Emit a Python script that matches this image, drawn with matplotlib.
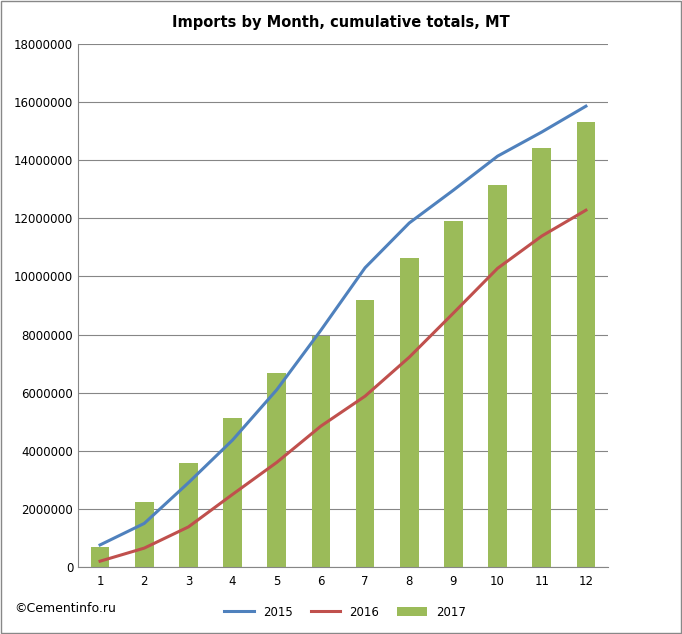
import matplotlib.pyplot as plt
import numpy as np

months = list(range(1, 13))
imports_2017 = [690000, 2240000, 3580000, 5130000, 6680000, 7950000, 9190000, 10630000, 11900000, 13150000, 14420000, 15310000]
imports_2015 = [760000, 1500000, 2900000, 4370000, 6100000, 8150000, 10300000, 11840000, 12970000, 14140000, 14970000, 15860000]
imports_2016 = [200000, 650000, 1380000, 2500000, 3600000, 4850000, 5880000, 7220000, 8740000, 10280000, 11390000, 12280000]

fig = plt.figure(figsize=(6.82, 6.34), dpi=100)
fig.patches.append(plt.Rectangle((0.002, 0.002), 0.996, 0.996, transform=fig.transFigure,
                                 fill=False, edgecolor='#888888', linewidth=1))
ax = fig.add_axes([78 / 682, 1 - 567 / 634, 530 / 682, 523 / 634])

x = np.arange(len(months))
ax.bar(x, imports_2017, width=0.42, color='#9bbb59', label='2017', zorder=2)
ax.plot(x, imports_2015, color='#4f81bd', linewidth=2.2, label='2015', zorder=3)
ax.plot(x, imports_2016, color='#c0504d', linewidth=2.2, label='2016', zorder=3)

ax.set_xlim(-0.5, 11.5)
ax.set_ylim(0, 18000000)
ax.set_yticks(np.arange(0, 18000001, 2000000))
ax.set_yticklabels([str(v) for v in range(0, 18000001, 2000000)], fontsize=8.5)
ax.set_xticks(x)
ax.set_xticklabels([str(m) for m in months], fontsize=8.5)
ax.yaxis.grid(True, color='#868686', linewidth=0.8, zorder=0)
ax.set_axisbelow(True)
for s in ['top', 'right']:
    ax.spines[s].set_visible(False)
ax.spines['left'].set_color('#868686')
ax.spines['bottom'].set_color('#868686')
ax.tick_params(axis='y', length=0)
ax.tick_params(axis='x', length=0, pad=6)

fig.text(0.5, 1 - 22 / 634, 'Imports by Month, cumulative totals, MT', ha='center', va='center',
         fontsize=10.5, fontweight='bold')
fig.text(14 / 682, 1 - 608 / 634, '©Cementinfo.ru', ha='left', va='center', fontsize=9)
fig.legend(loc='center', bbox_to_anchor=(345 / 682, 1 - 612 / 634), ncol=3, frameon=False,
           fontsize=8.5, handlelength=2.5, columnspacing=1.5)

fig.savefig('out.png', dpi=100)
